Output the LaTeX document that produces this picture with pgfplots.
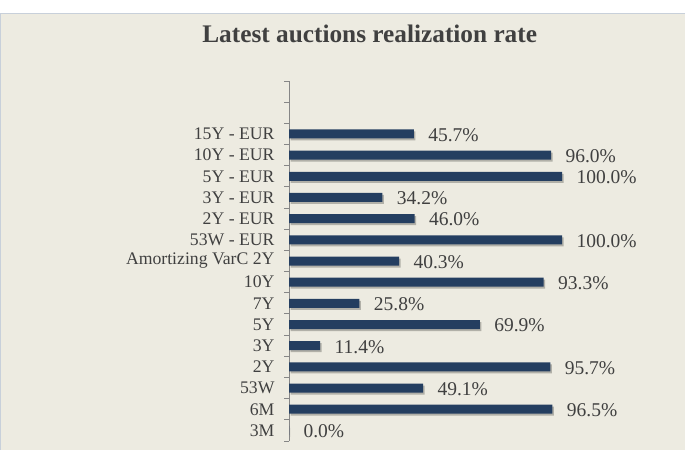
\documentclass[border=0pt]{standalone}
\usepackage{pgfplots}
\pgfplotsset{compat=1.18}
\usepackage{fontspec}
\setmainfont{Liberation Serif}
\usetikzlibrary{shadows}
\definecolor{bg}{RGB}{237,235,225}
\definecolor{barc}{RGB}{36,62,96}
\definecolor{txt}{RGB}{64,64,64}
\definecolor{frame}{RGB}{200,208,218}
\definecolor{axc}{RGB}{134,134,134}
\begin{document}
\begin{tikzpicture}
\path[use as bounding box] (0,0) rectangle (685bp,-450bp);
\fill[bg] (0,-13bp) rectangle (685bp,-450bp);
\draw[frame, line width=1.2bp] (0.6bp,-450bp) -- (0.6bp,-13.6bp) -- (685bp,-13.6bp);
\node[anchor=base, text=txt, inner sep=0pt] at (369.7bp,-42.3bp) {\fontsize{25.3bp}{29bp}\selectfont\bfseries Latest auctions realization rate};
\begin{axis}[
  at={(289bp,-441bp)}, anchor=south west,
  scale only axis, width=341.25bp, height=360bp,
  xmin=0, xmax=125, ymin=-0.5, ymax=16.5,
  enlargelimits=false,
  xbar, bar width=9bp,
  axis x line=none, axis y line*=left,
  axis line style={-, draw=axc, line width=1bp},
  ytick={0,...,14},
  yticklabels={3M,6M,53W,2Y,3Y,5Y,7Y,10Y,Amortizing VarC 2Y,53W - EUR,2Y - EUR,3Y - EUR,5Y - EUR,10Y - EUR,15Y - EUR},
  minor ytick={-0.5,0.5,...,16.5},
  major tick length=0pt, minor tick length=5bp, tick align=outside,
  tick style={draw=axc, line width=1bp},
  yticklabel style={font=\fontsize{17.7bp}{20bp}\selectfont, text=txt, xshift=-11bp},
  /pgf/number format/assume math mode=true,
  nodes near coords={\pgfmathprintnumber[fixed,fixed zerofill,precision=1]{\pgfplotspointmeta}\%},
  nodes near coords style={font=\fontsize{19.5bp}{22bp}\selectfont, text=txt, anchor=west, xshift=11bp, yshift=-1bp},
  clip=false,
]
\addplot[fill=barc, draw=none, drop shadow={shadow xshift=1.5bp, shadow yshift=-2bp, fill=black, opacity=0.25}] coordinates {
(0,0) (96.5,1) (49.1,2) (95.7,3) (11.4,4) (69.9,5) (25.8,6) (93.3,7) (40.3,8) (100,9) (46.0,10) (34.2,11) (100,12) (96.0,13) (45.7,14)
};
\end{axis}
\end{tikzpicture}
\end{document}
